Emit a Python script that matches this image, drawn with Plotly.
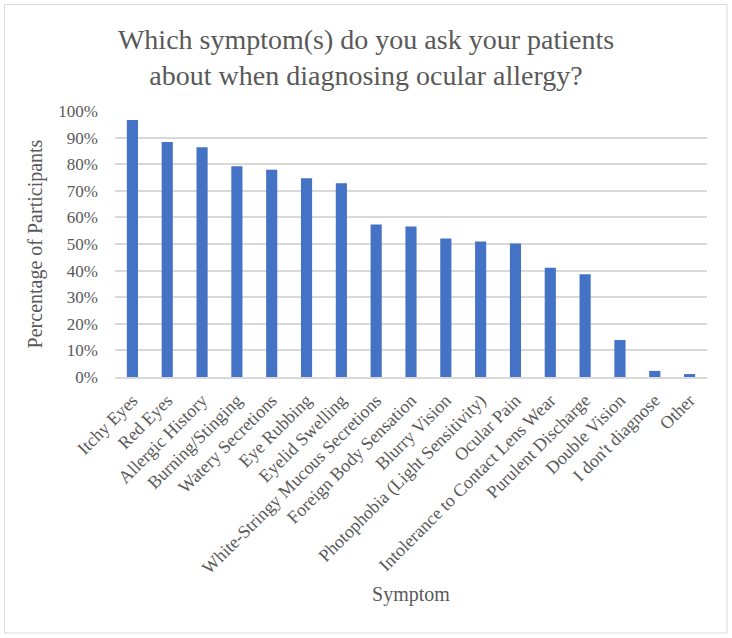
import plotly.graph_objects as go

categories = ["Itchy Eyes", "Red Eyes", "Allergic History", "Burning/Stinging",
              "Watery Secretions", "Eye Rubbing", "Eyelid Swelling",
              "White-Stringy Mucous Secretions", "Foreign Body Sensation",
              "Blurry Vision", "Photophobia (Light Sensitivity)", "Ocular Pain",
              "Intolerance to Contact Lens Wear", "Purulent Discharge",
              "Double Vision", "I don't diagnose", "Other"]
values = [0.966, 0.883, 0.864, 0.792, 0.779, 0.747, 0.728, 0.573, 0.566,
          0.521, 0.509, 0.502, 0.411, 0.386, 0.139, 0.023, 0.011]
y_ticks = [0, 0.1, 0.2, 0.3, 0.4, 0.5, 0.6, 0.7, 0.8, 0.9, 1.0]
y_tick_labels = ["0%", "10%", "20%", "30%", "40%", "50%", "60%", "70%", "80%", "90%", "100%"]

W, H = 732, 638
ML, MR, MT, MB = 115, 25, 111, 261
PW, PH = W - ML - MR, H - MT - MB

FONT = "Liberation Serif"
GREY = "#595959"

fig = go.Figure(go.Bar(x=categories, y=values, marker=dict(color="#4472c4", line=dict(width=0))))

def px_x(p):
    return (p - ML) / PW

def px_y(p):
    return (H - MB - p) / PH

fig.update_layout(
    width=W, height=H,
    margin=dict(l=ML, r=MR, t=MT, b=MB),
    paper_bgcolor="white", plot_bgcolor="white",
    bargap=0.68,
    showlegend=False,
    font=dict(family=FONT, color=GREY),
    title=dict(text="Which symptom(s) do you ask your patients<br>about when diagnosing ocular allergy?",
               x=0.5, xref="container", xanchor="center",
               y=1 - 49 / H, yref="container", yanchor="top",
               font=dict(family=FONT, size=28, color=GREY)),
    xaxis=dict(tickangle=-45, tickfont=dict(size=18, color=GREY), showgrid=False,
               showline=True, linecolor="#d9d9d9", linewidth=1.5,
               ticks="", ticklabelstandoff=4,
               title=dict(text="Symptom", font=dict(size=20, color=GREY), standoff=10)),
    yaxis=dict(range=[0, 1.0], tickvals=y_ticks, ticktext=y_tick_labels,
               tickfont=dict(size=17, color=GREY), showgrid=True, gridcolor="#d9d9d9",
               gridwidth=1.5, zeroline=False, ticks="", ticklabelstandoff=16,
               title=dict(text="Percentage of Participants", font=dict(size=20, color=GREY), standoff=10)),
    shapes=[dict(type="rect", xref="paper", yref="paper",
                 x0=px_x(4.5), x1=px_x(727), y0=px_y(633), y1=px_y(4.5),
                 line=dict(color="#d9d9d9", width=1), layer="below")],
)

fig.write_html("out.html")
